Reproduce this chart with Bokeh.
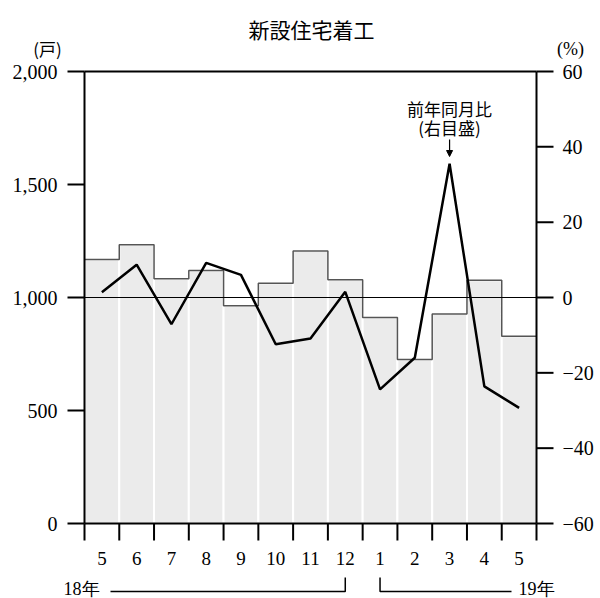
import numpy as np
from bokeh.plotting import figure
from bokeh.models import Range1d, Arrow, NormalHead
from bokeh.core.properties import value
from bokeh.embed import file_html
from bokeh.resources import INLINE

# ---- data ----
months = ["5", "6", "7", "8", "9", "10", "11", "12", "1", "2", "3", "4", "5"]
starts = [1168, 1233, 1083, 1120, 964, 1063, 1206, 1078, 911, 726, 927, 1076, 829]
yoy = [1.4, 8.7, -7.1, 9.2, 6.0, -12.4, -10.9, 1.5, -24.4, -16.0, 35.5, -23.6, -29.3]
left_ticks = [0, 500, 1000, 1500, 2000]
right_ticks = [-60, -40, -20, 0, 20, 40, 60]
title_text = "新設住宅着工"
left_unit = "(戸)"
right_unit = "(%)"
note_lines = ["前年同月比", "(右目盛)"]
year_labels = ["18年", "19年"]

SERIF = "Liberation Serif"
CJK = "Noto Sans CJK JP"

# ---- layout (page pixels) ----
W, H = 600, 598
FL, FR, FT, FB = 84, 536, 71, 523          # plot-area edges
n = len(months)
L_MIN, L_MAX = left_ticks[0], left_ticks[-1]
R_MIN, R_MAX = right_ticks[0], right_ticks[-1]
ux = (FR - FL) / n                          # px per category
ky = (FB - FT) / (L_MAX - L_MIN)            # px per left unit
kp = (FB - FT) / (R_MAX - R_MIN)            # px per right unit

x = np.arange(1, n + 1)
edges = np.arange(0.5, n + 1.0)


def X(pix):
    return (pix - FL) / ux + 0.5


def Y(pix):
    return L_MIN + (FB - pix) / ky


p = figure(width=W, height=H, output_backend="svg", toolbar_location=None,
           x_range=Range1d(X(0), X(W)), y_range=Range1d(Y(H), Y(0)),
           x_axis_type=None, y_axis_type=None, min_border=0)
p.extra_y_ranges = {"pct": Range1d(R_MIN - (H - FB) / kp, R_MAX + FT / kp)}
p.xgrid.visible = False
p.ygrid.visible = False
p.outline_line_color = None
p.background_fill_color = "white"
p.border_fill_color = "white"

x0, x1 = edges[0], edges[-1]

# bars with white separators
p.vbar(x=x, top=starts, width=1.0, bottom=L_MIN, fill_color="#ebebeb",
       line_color="white", line_width=2)
# step outline along bar tops
p.step(edges, starts + [starts[-1]], mode="after", line_color="#555555", line_width=1.5)
# reference line at 0 %
p.segment(x0=[x0], y0=[1000], x1=[x1], y1=[1000], line_color="black", line_width=1.2)
# year-on-year line (right scale)
p.line(x, yoy, y_range_name="pct", line_color="black", line_width=2.5)

# ---- axes (drawn through the data scales) ----
AX = dict(line_color="black", line_width=2)
# left and right axis lines
p.segment(x0=[x0, x1], y0=[L_MIN, L_MIN], x1=[x0, x1], y1=[L_MAX, L_MAX], **AX)
# left ticks (the 0 and 2000 ticks form the bottom/top frame together with right ticks)
p.segment(x0=[X(FL - 17)] * len(left_ticks), y0=left_ticks,
          x1=[x0] * len(left_ticks), y1=left_ticks, **AX)
p.segment(x0=[x0, x0], y0=[L_MIN, L_MAX], x1=[x1, x1], y1=[L_MIN, L_MAX], **AX)
# right ticks
p.segment(x0=[x1] * len(right_ticks), y0=right_ticks,
          x1=[X(FR + 17)] * len(right_ticks), y1=right_ticks, y_range_name="pct", **AX)
# bottom ticks at category edges
p.segment(x0=edges, y0=[L_MIN] * len(edges), x1=edges, y1=[Y(FB + 17)] * len(edges), **AX)

# tick labels
p.text(x=[X(57)] * len(left_ticks), y=left_ticks, text=[f"{t:,}" for t in left_ticks],
       text_font=value(SERIF), text_font_size="20px", text_align="right",
       text_baseline="middle", text_color="black")
p.text(x=[X(562)] * len(right_ticks), y=right_ticks,
       text=[str(t).replace("-", "\u2212") for t in right_ticks], y_range_name="pct",
       text_font=value(SERIF), text_font_size="20px", text_align="left",
       text_baseline="middle", text_color="black")
p.text(x=x, y=[Y(558)] * n, text=months,
       text_font=value(SERIF), text_font_size="19px", text_align="center",
       text_baseline="middle", text_color="black")

# title and units
p.text(x=[X(311)], y=[Y(28)], text=[title_text], text_font=value(CJK),
       text_font_size="21px", text_align="center", text_baseline="middle", text_color="black")
p.text(x=[X(47)], y=[Y(48)], text=[left_unit], text_font=value(CJK),
       text_font_size="17px", text_align="center", text_baseline="middle", text_color="black")
p.text(x=[X(570)], y=[Y(48)], text=[right_unit], text_font=value(SERIF),
       text_font_size="18px", text_align="center", text_baseline="middle", text_color="black")

# annotation of the yoy line
peak = int(np.argmax(yoy)) + 1
p.text(x=[peak, peak], y=[Y(108), Y(127)], text=note_lines, text_font=value(CJK),
       text_font_size="17px", text_align="center", text_baseline="middle", text_color="black")
p.add_layout(Arrow(x_start=peak, y_start=Y(139), x_end=peak, y_end=Y(156),
                   line_width=1.2, line_color="black",
                   end=NormalHead(size=6, fill_color="black", line_color="black")))

# year brackets
dec_idx = months.index("12") + 1
jan_idx = dec_idx + 1
yl, yt = Y(591), Y(577)
p.line([X(110), dec_idx, dec_idx], [yl, yl, yt], line_color="black", line_width=1.5)
p.line([jan_idx, jan_idx, X(511)], [yt, yl, yl], line_color="black", line_width=1.5)
p.text(x=[X(81), X(536)], y=[Y(588), Y(588)], text=year_labels,
       text_font=value(SERIF), text_font_size="18px", text_align="center",
       text_baseline="middle", text_color="black")

open("out.html", "w").write(file_html(p, INLINE))
